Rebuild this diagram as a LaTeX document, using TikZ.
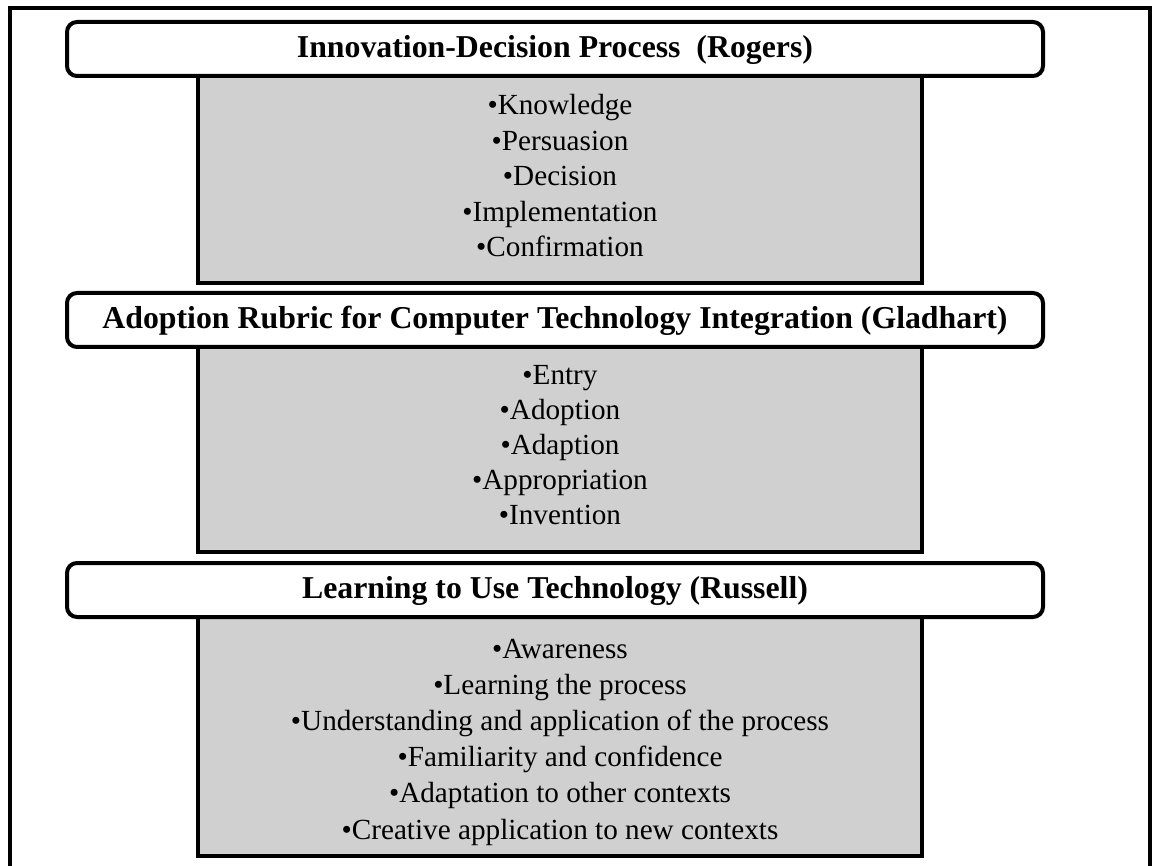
\documentclass[tikz,border=0pt]{standalone}
\usepackage{fontspec}
\setmainfont{Liberation Serif}
\definecolor{boxgray}{HTML}{D0D0D0}
\begin{document}
\begin{tikzpicture}[x=1pt,y=-1pt,
  header/.style={draw=black,line width=4pt,fill=white,rounded corners=10pt,
    minimum width=976pt,minimum height=54pt,inner sep=0pt,
    text height=23pt,text depth=6pt,font=\fontsize{31.8}{38}\selectfont\bfseries},
  graybox/.style={draw=black,line width=4pt,fill=boxgray,inner sep=0pt},
  item/.style={anchor=base,inner sep=0pt,font=\fontsize{29.2}{35}\selectfont}]
\useasboundingbox (0,0) rectangle (1152,866);
% outer frame (open at the bottom)
\draw[line width=4pt] (10,900) -- (10,8.5) -- (1149.5,8.5) -- (1149.5,900);
% gray boxes
\node[graybox,minimum width=724pt,minimum height=212pt] (g1) at (560,177) {};
\node[graybox,minimum width=724pt,minimum height=211pt] (g2) at (560,446) {};
\node[graybox,minimum width=724pt,minimum height=246pt] (g3) at (560,733) {};
% headers
\node[header] (h1) at (555,49) {Innovation-Decision Process\ \ (Rogers)};
\node[header] (h2) at (555,320) {Adoption Rubric for Computer Technology Integration (Gladhart)};
\node[header] (h3) at (555,590) {Learning to Use Technology (Russell)};
% items
\foreach \t [count=\i from 0] in {Knowledge,Persuasion,Decision,Implementation,Confirmation}
  \node[item] (a\i) at (560,115+35.5*\i) {•\t};
\foreach \t [count=\i from 0] in {Entry,Adoption,Adaption,Appropriation,Invention}
  \node[item] (b\i) at (560,385+35*\i) {•\t};
\foreach \t [count=\i from 0] in {Awareness,Learning the process,Understanding and application of the process,Familiarity and confidence,Adaptation to other contexts,Creative application to new contexts}
  \node[item] (c\i) at (560,658+36.2*\i) {•\t};
\end{tikzpicture}
\end{document}
